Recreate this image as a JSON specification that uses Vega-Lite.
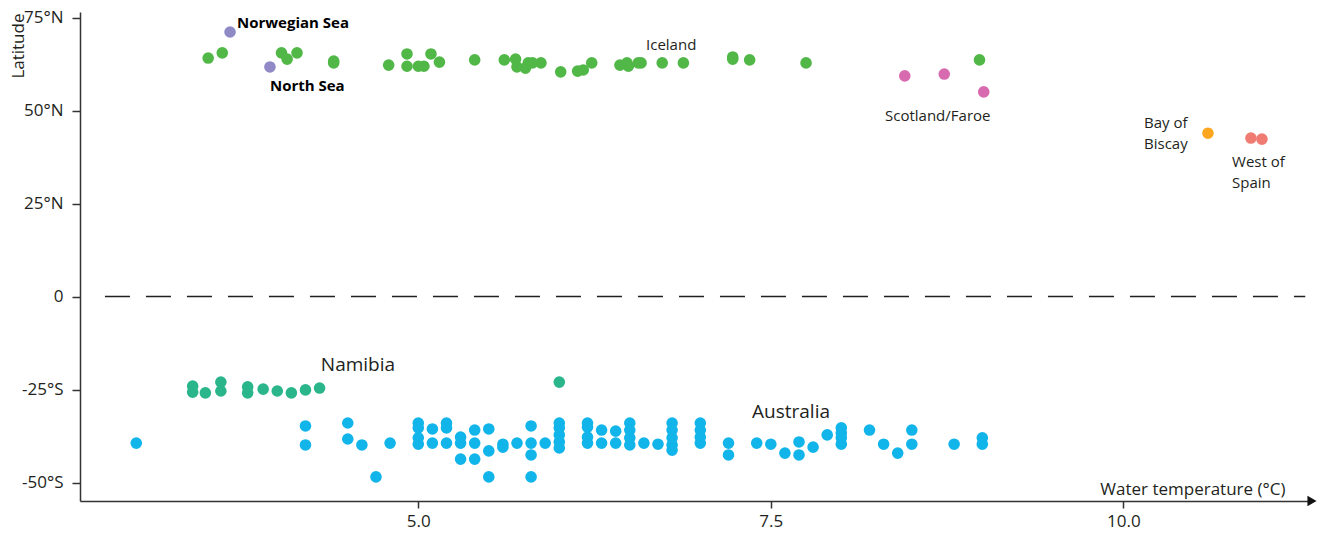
{
  "$schema": "https://vega.github.io/schema/vega-lite/v6.json",
  "width": 1232,
  "height": 489,
  "autosize": "none",
  "padding": {"left": 80, "top": 12, "right": 13, "bottom": 36},
  "background": "white",
  "config": {
    "view": {"stroke": null},
    "font": "Open Sans",
    "axis": {
      "grid": false,
      "labelFont": "Open Sans",
      "labelFontSize": 17,
      "labelColor": "#231f20",
      "titleFont": "Open Sans",
      "titleFontSize": 17,
      "titleFontWeight": "normal",
      "titleColor": "#231f20",
      "domainColor": "#333333",
      "domainWidth": 1.5,
      "tickColor": "#333333",
      "tickWidth": 1.5,
      "tickSize": 7
    }
  },
  "datasets": {
    "pts": [
      {"temp": 3.51, "lat": 64.1, "region": "Iceland"},
      {"temp": 3.61, "lat": 65.5, "region": "Iceland"},
      {"temp": 4.03, "lat": 65.5, "region": "Iceland"},
      {"temp": 4.07, "lat": 63.8, "region": "Iceland"},
      {"temp": 4.14, "lat": 65.5, "region": "Iceland"},
      {"temp": 4.40, "lat": 63.3, "region": "Iceland"},
      {"temp": 4.40, "lat": 62.8, "region": "Iceland"},
      {"temp": 4.79, "lat": 62.2, "region": "Iceland"},
      {"temp": 4.92, "lat": 65.2, "region": "Iceland"},
      {"temp": 4.92, "lat": 61.9, "region": "Iceland"},
      {"temp": 5.00, "lat": 61.9, "region": "Iceland"},
      {"temp": 5.04, "lat": 61.9, "region": "Iceland"},
      {"temp": 5.09, "lat": 65.2, "region": "Iceland"},
      {"temp": 5.15, "lat": 63.0, "region": "Iceland"},
      {"temp": 5.40, "lat": 63.6, "region": "Iceland"},
      {"temp": 5.61, "lat": 63.6, "region": "Iceland"},
      {"temp": 5.69, "lat": 63.8, "region": "Iceland"},
      {"temp": 5.70, "lat": 61.7, "region": "Iceland"},
      {"temp": 5.76, "lat": 61.4, "region": "Iceland"},
      {"temp": 5.78, "lat": 62.8, "region": "Iceland"},
      {"temp": 5.81, "lat": 62.8, "region": "Iceland"},
      {"temp": 5.87, "lat": 62.8, "region": "Iceland"},
      {"temp": 6.01, "lat": 60.4, "region": "Iceland"},
      {"temp": 6.13, "lat": 60.6, "region": "Iceland"},
      {"temp": 6.17, "lat": 60.9, "region": "Iceland"},
      {"temp": 6.23, "lat": 62.8, "region": "Iceland"},
      {"temp": 6.43, "lat": 62.2, "region": "Iceland"},
      {"temp": 6.48, "lat": 62.8, "region": "Iceland"},
      {"temp": 6.49, "lat": 61.9, "region": "Iceland"},
      {"temp": 6.56, "lat": 62.8, "region": "Iceland"},
      {"temp": 6.58, "lat": 62.8, "region": "Iceland"},
      {"temp": 6.73, "lat": 62.8, "region": "Iceland"},
      {"temp": 6.88, "lat": 62.8, "region": "Iceland"},
      {"temp": 7.23, "lat": 64.4, "region": "Iceland"},
      {"temp": 7.23, "lat": 63.8, "region": "Iceland"},
      {"temp": 7.35, "lat": 63.6, "region": "Iceland"},
      {"temp": 7.75, "lat": 62.8, "region": "Iceland"},
      {"temp": 8.98, "lat": 63.6, "region": "Iceland"},
      {"temp": 3.665, "lat": 71.1, "region": "North"},
      {"temp": 3.948, "lat": 61.7, "region": "North"},
      {"temp": 8.45, "lat": 59.3, "region": "Scotland/Faroe"},
      {"temp": 8.73, "lat": 59.8, "region": "Scotland/Faroe"},
      {"temp": 9.01, "lat": 55.0, "region": "Scotland/Faroe"},
      {"temp": 10.60, "lat": 43.9, "region": "Bay of Biscay"},
      {"temp": 10.905, "lat": 42.6, "region": "West of Spain"},
      {"temp": 10.983, "lat": 42.3, "region": "West of Spain"},
      {"temp": 3.40, "lat": -24.1, "region": "Namibia"},
      {"temp": 3.40, "lat": -25.7, "region": "Namibia"},
      {"temp": 3.49, "lat": -25.9, "region": "Namibia"},
      {"temp": 3.60, "lat": -23.0, "region": "Namibia"},
      {"temp": 3.60, "lat": -25.4, "region": "Namibia"},
      {"temp": 3.79, "lat": -24.3, "region": "Namibia"},
      {"temp": 3.79, "lat": -25.9, "region": "Namibia"},
      {"temp": 3.90, "lat": -24.9, "region": "Namibia"},
      {"temp": 4.00, "lat": -25.4, "region": "Namibia"},
      {"temp": 4.10, "lat": -25.9, "region": "Namibia"},
      {"temp": 4.20, "lat": -25.1, "region": "Namibia"},
      {"temp": 4.30, "lat": -24.6, "region": "Namibia"},
      {"temp": 6.00, "lat": -23.0, "region": "Namibia"},
      {"temp": 3.0, "lat": -39.4, "region": "Australia"},
      {"temp": 4.2, "lat": -34.8, "region": "Australia"},
      {"temp": 4.2, "lat": -39.9, "region": "Australia"},
      {"temp": 4.5, "lat": -34.0, "region": "Australia"},
      {"temp": 4.5, "lat": -38.3, "region": "Australia"},
      {"temp": 4.6, "lat": -39.9, "region": "Australia"},
      {"temp": 4.7, "lat": -48.5, "region": "Australia"},
      {"temp": 4.8, "lat": -39.4, "region": "Australia"},
      {"temp": 5.0, "lat": -34.0, "region": "Australia"},
      {"temp": 5.0, "lat": -35.3, "region": "Australia"},
      {"temp": 5.0, "lat": -38.0, "region": "Australia"},
      {"temp": 5.0, "lat": -39.7, "region": "Australia"},
      {"temp": 5.1, "lat": -35.6, "region": "Australia"},
      {"temp": 5.1, "lat": -39.4, "region": "Australia"},
      {"temp": 5.2, "lat": -34.0, "region": "Australia"},
      {"temp": 5.2, "lat": -35.3, "region": "Australia"},
      {"temp": 5.2, "lat": -39.4, "region": "Australia"},
      {"temp": 5.3, "lat": -37.8, "region": "Australia"},
      {"temp": 5.3, "lat": -39.4, "region": "Australia"},
      {"temp": 5.3, "lat": -43.7, "region": "Australia"},
      {"temp": 5.4, "lat": -35.9, "region": "Australia"},
      {"temp": 5.4, "lat": -39.4, "region": "Australia"},
      {"temp": 5.4, "lat": -43.7, "region": "Australia"},
      {"temp": 5.5, "lat": -35.6, "region": "Australia"},
      {"temp": 5.5, "lat": -41.5, "region": "Australia"},
      {"temp": 5.5, "lat": -48.5, "region": "Australia"},
      {"temp": 5.6, "lat": -39.7, "region": "Australia"},
      {"temp": 5.6, "lat": -40.5, "region": "Australia"},
      {"temp": 5.7, "lat": -39.4, "region": "Australia"},
      {"temp": 5.8, "lat": -34.8, "region": "Australia"},
      {"temp": 5.8, "lat": -39.4, "region": "Australia"},
      {"temp": 5.8, "lat": -42.6, "region": "Australia"},
      {"temp": 5.8, "lat": -48.5, "region": "Australia"},
      {"temp": 5.9, "lat": -39.4, "region": "Australia"},
      {"temp": 6.0, "lat": -34.0, "region": "Australia"},
      {"temp": 6.0, "lat": -35.3, "region": "Australia"},
      {"temp": 6.0, "lat": -37.2, "region": "Australia"},
      {"temp": 6.0, "lat": -39.1, "region": "Australia"},
      {"temp": 6.0, "lat": -40.7, "region": "Australia"},
      {"temp": 6.2, "lat": -34.0, "region": "Australia"},
      {"temp": 6.2, "lat": -35.1, "region": "Australia"},
      {"temp": 6.2, "lat": -37.8, "region": "Australia"},
      {"temp": 6.2, "lat": -39.4, "region": "Australia"},
      {"temp": 6.3, "lat": -35.9, "region": "Australia"},
      {"temp": 6.3, "lat": -39.4, "region": "Australia"},
      {"temp": 6.4, "lat": -36.2, "region": "Australia"},
      {"temp": 6.4, "lat": -39.4, "region": "Australia"},
      {"temp": 6.5, "lat": -34.0, "region": "Australia"},
      {"temp": 6.5, "lat": -35.9, "region": "Australia"},
      {"temp": 6.5, "lat": -38.0, "region": "Australia"},
      {"temp": 6.5, "lat": -39.9, "region": "Australia"},
      {"temp": 6.6, "lat": -39.4, "region": "Australia"},
      {"temp": 6.7, "lat": -39.7, "region": "Australia"},
      {"temp": 6.8, "lat": -34.0, "region": "Australia"},
      {"temp": 6.8, "lat": -35.9, "region": "Australia"},
      {"temp": 6.8, "lat": -38.0, "region": "Australia"},
      {"temp": 6.8, "lat": -39.9, "region": "Australia"},
      {"temp": 6.8, "lat": -41.3, "region": "Australia"},
      {"temp": 7.0, "lat": -34.0, "region": "Australia"},
      {"temp": 7.0, "lat": -35.9, "region": "Australia"},
      {"temp": 7.0, "lat": -37.8, "region": "Australia"},
      {"temp": 7.0, "lat": -39.4, "region": "Australia"},
      {"temp": 7.2, "lat": -39.4, "region": "Australia"},
      {"temp": 7.2, "lat": -42.6, "region": "Australia"},
      {"temp": 7.4, "lat": -39.4, "region": "Australia"},
      {"temp": 7.5, "lat": -39.7, "region": "Australia"},
      {"temp": 7.6, "lat": -42.1, "region": "Australia"},
      {"temp": 7.7, "lat": -39.1, "region": "Australia"},
      {"temp": 7.7, "lat": -42.6, "region": "Australia"},
      {"temp": 7.8, "lat": -40.5, "region": "Australia"},
      {"temp": 7.9, "lat": -37.2, "region": "Australia"},
      {"temp": 8.0, "lat": -35.3, "region": "Australia"},
      {"temp": 8.0, "lat": -36.7, "region": "Australia"},
      {"temp": 8.0, "lat": -38.0, "region": "Australia"},
      {"temp": 8.0, "lat": -39.7, "region": "Australia"},
      {"temp": 8.2, "lat": -35.9, "region": "Australia"},
      {"temp": 8.3, "lat": -39.7, "region": "Australia"},
      {"temp": 8.4, "lat": -42.1, "region": "Australia"},
      {"temp": 8.5, "lat": -35.9, "region": "Australia"},
      {"temp": 8.5, "lat": -39.7, "region": "Australia"},
      {"temp": 8.8, "lat": -39.7, "region": "Australia"},
      {"temp": 9.0, "lat": -38.0, "region": "Australia"},
      {"temp": 9.0, "lat": -39.7, "region": "Australia"}
    ],
    "labels": [
      {"temp": 6.615, "lat": 67.6, "label": "Iceland", "fs": 15},
      {"temp": 8.31, "lat": 48.5, "label": "Scotland/Faroe", "fs": 15},
      {"temp": 10.147, "lat": 46.6, "label": "Bay of", "fs": 15},
      {"temp": 10.147, "lat": 41.0, "label": "Biscay", "fs": 15},
      {"temp": 10.771, "lat": 36.2, "label": "West of", "fs": 15},
      {"temp": 10.771, "lat": 30.5, "label": "Spain", "fs": 15},
      {"temp": 4.309, "lat": -18.4, "label": "Namibia", "fs": 19},
      {"temp": 7.367, "lat": -31.0, "label": "Australia", "fs": 19}
    ],
    "boldlabels": [
      {"temp": 3.714, "lat": 73.4, "label": "Norwegian Sea"},
      {"temp": 3.948, "lat": 56.6, "label": "North Sea"}
    ]
  },
  "layer": [
    {
      "data": {"values": [{"lat": 0, "t1": 2.778, "t2": 11.29}]},
      "mark": {"type": "rule", "strokeDash": [25, 16], "stroke": "#231f20", "strokeWidth": 1.5},
      "encoding": {
        "y": {"field": "lat", "type": "quantitative", "scale": {"domain": [-54.97, 76.48], "nice": false, "zero": false}},
        "x": {"field": "t1", "type": "quantitative", "scale": {"domain": [2.601, 11.338], "nice": false, "zero": false}},
        "x2": {"field": "t2"}
      }
    },
    {
      "data": {"name": "pts"},
      "mark": {"type": "point", "filled": true, "opacity": 1, "size": 135},
      "encoding": {
        "x": {
          "field": "temp", "type": "quantitative",
          "scale": {"domain": [2.601, 11.338], "nice": false, "zero": false},
          "axis": {
            "values": [5, 7.5, 10], "format": ".1f", "labelPadding": 5,
            "title": "Water temperature (°C)",
            "titleAnchor": null, "titleAlign": "right", "titleBaseline": "alphabetic",
            "titleX": 1205, "titleY": -7
          }
        },
        "y": {
          "field": "lat", "type": "quantitative",
          "scale": {"domain": [-54.97, 76.48], "nice": false, "zero": false},
          "axis": {
            "values": [-50, -25, 0, 25, 50, 75],
            "labelExpr": "datum.value == 0 ? '0' : (datum.value > 0 ? datum.value + '°N' : datum.value + '°S')",
            "labelPadding": 9, "tickSize": 8,
            "title": "Latitude",
            "titleAnchor": null, "titleAngle": -90, "titleAlign": "right", "titleBaseline": "middle",
            "titleX": -61.5, "titleY": 1
          }
        },
        "color": {
          "field": "region", "type": "nominal", "legend": null,
          "scale": {
            "domain": ["Iceland", "North", "Scotland/Faroe", "Bay of Biscay", "West of Spain", "Namibia", "Australia"],
            "range": ["#51b848", "#8f8ac6", "#d86bb0", "#fca61e", "#f07b73", "#2ab58b", "#12b5ea"]
          }
        }
      }
    },
    {
      "data": {"name": "labels"},
      "mark": {"type": "text", "align": "left", "baseline": "middle", "font": "Open Sans", "color": "#231f20"},
      "encoding": {
        "x": {"field": "temp", "type": "quantitative"},
        "y": {"field": "lat", "type": "quantitative"},
        "text": {"field": "label"},
        "size": {"field": "fs", "type": "quantitative", "scale": null}
      }
    },
    {
      "data": {"name": "boldlabels"},
      "mark": {"type": "text", "align": "left", "baseline": "middle", "font": "Open Sans", "fontWeight": "bold", "fontSize": 15, "color": "#000000"},
      "encoding": {
        "x": {"field": "temp", "type": "quantitative"},
        "y": {"field": "lat", "type": "quantitative"},
        "text": {"field": "label"}
      }
    },
    {
      "data": {"values": [{"temp": 11.338, "lat": -54.97}]},
      "mark": {"type": "point", "shape": "triangle-right", "filled": true, "color": "#111111", "opacity": 1, "size": 110},
      "encoding": {
        "x": {"field": "temp", "type": "quantitative"},
        "y": {"field": "lat", "type": "quantitative"}
      }
    }
  ]
}
